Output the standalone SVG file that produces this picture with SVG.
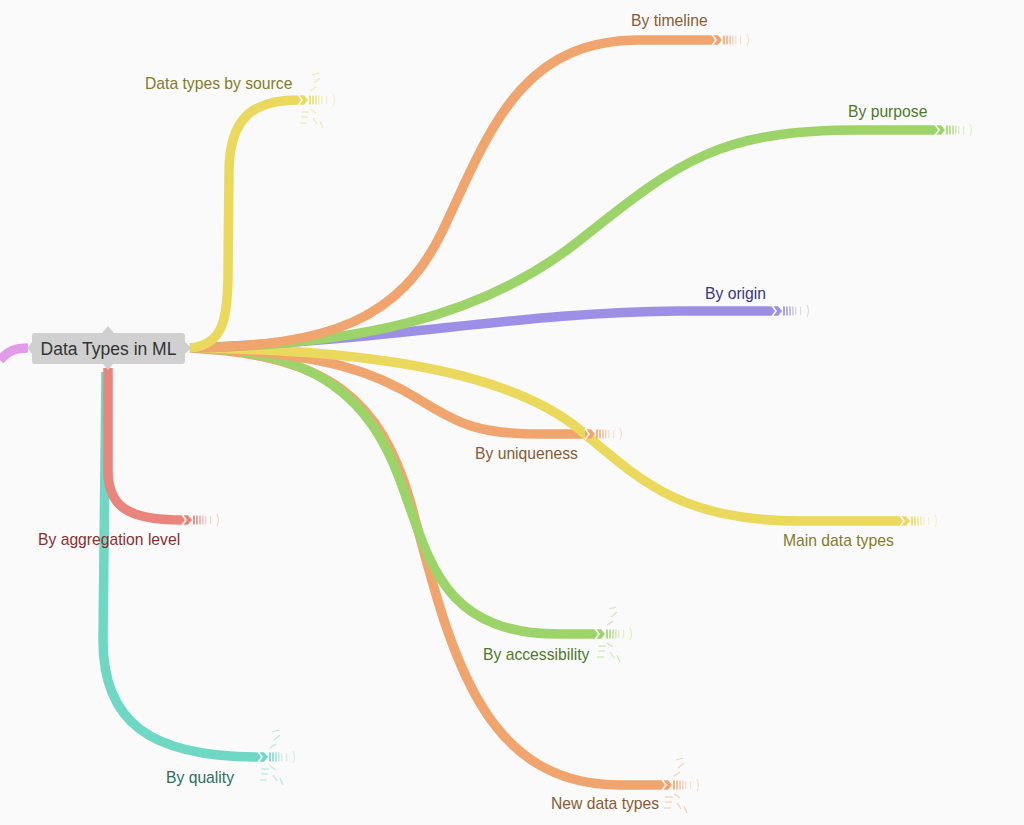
<svg xmlns="http://www.w3.org/2000/svg" xmlns:xlink="http://www.w3.org/1999/xlink" width="1024" height="825" viewBox="0 0 1024 825">
<style>
.br{fill:none;stroke-width:9.5;stroke-linecap:butt;stroke-linejoin:round}
.lbl{font-family:"Liberation Sans",Arial,sans-serif;font-size:15.7px}
.ctr{font-family:"Liberation Sans",Arial,sans-serif;font-size:17.5px;fill:#333}
</style>
<defs>
<g id="tail">
<polygon points="0,-4.75 6,-4.75 10,0 6,4.75 0,4.75" fill="currentColor"/>
<polyline points="0,-5.5 4,0 0,5.5" fill="none" stroke="#fafafa" stroke-width="1.6"/>
<rect x="11" y="-4.5" width="2" height="9" fill="currentColor" opacity="0.85"/>
<rect x="14" y="-4.5" width="2" height="9" fill="currentColor" opacity="0.7"/>
<rect x="17" y="-4.5" width="2" height="9" fill="currentColor" opacity="0.55"/>
<rect x="20" y="-4.5" width="1.6" height="9" fill="currentColor" opacity="0.45"/>
<rect x="23" y="-4" width="1.4" height="8" fill="currentColor" opacity="0.35"/>
<rect x="28" y="-4" width="1.2" height="8" fill="currentColor" opacity="0.3"/>
<path d="M35,-6 Q38,0 35,6" fill="none" stroke="currentColor" stroke-width="1.2" opacity="0.3"/>
</g>
<g id="burst" stroke="currentColor" stroke-width="1.3" fill="none" opacity="0.45">
<line x1="12" y1="-9" x2="18" y2="-13"/>
<line x1="16" y1="-17" x2="22" y2="-22"/>
<line x1="14" y1="-25" x2="21" y2="-27"/>
<line x1="12" y1="9" x2="18" y2="13"/>
<line x1="15" y1="18" x2="19" y2="24"/>
<line x1="22" y1="21" x2="25" y2="28"/>
<line x1="3" y1="12" x2="11" y2="12"/>
<line x1="3" y1="17" x2="10" y2="17"/>
<line x1="2" y1="23" x2="9" y2="23"/>
</g>
</defs>
<rect width="1024" height="825" fill="#fafafa"/>
<g id="connectors">
<path class="br" stroke="#e19bea" d="M0,360 C8,351 15,348 28,348"/>
<path class="br" stroke="#6fd8c5" d="M106,372 L103,640 C103,722 150,757 258,757"/>
<path class="br" stroke="#e8857c" d="M108,368 L108,470 C108,505 125,520 182,520"/>
<path class="br" stroke="#f0a56f" d="M190,348 C330,355 380,400 410,500 C450,650 480,785 620,785 L662,785"/>
<path class="br" stroke="#9dd46a" d="M190,348 C320,350 370,400 400,480 C430,560 440,634 560,634 L595,634"/>
<path class="br" stroke="#f0a56f" d="M190,348 C330,352 380,375 420,400 C460,425 480,434 540,434 L585,434"/>
<path class="br" stroke="#ead95c" d="M190,348 C400,350 520,380 580,430 C640,480 680,521 800,521 L900,521"/>
<path class="br" stroke="#9d8fe6" d="M190,348 C400,340 520,312 680,311 L772,311"/>
<path class="br" stroke="#9dd46a" d="M190,348 C350,345 480,320 580,240 C680,160 720,130 860,130 L935,130"/>
<path class="br" stroke="#f0a56f" d="M190,348 C330,346 400,320 443,230 C490,130 520,40 640,40 L712,40"/>
<path class="br" stroke="#ead95c" d="M190,348 C222,345 228,322 228,272 L229,172 C229,115 256,100 298,100"/>
<g id="tails">
<use xlink:href="#tail" x="298" y="100" style="color:#ead95c"/><use xlink:href="#burst" x="298" y="100" style="color:#ead95c"/>
<use xlink:href="#tail" x="712" y="40" style="color:#f0a56f"/>
<use xlink:href="#tail" x="935" y="130" style="color:#9dd46a"/>
<use xlink:href="#tail" x="772" y="311" style="color:#9d8fe6"/>
<use xlink:href="#tail" x="585" y="434" style="color:#f0a56f"/>
<use xlink:href="#tail" x="900" y="521" style="color:#ead95c"/>
<use xlink:href="#tail" x="595" y="634" style="color:#9dd46a"/><use xlink:href="#burst" x="595" y="634" style="color:#9dd46a"/>
<use xlink:href="#tail" x="662" y="785" style="color:#f0a56f"/><use xlink:href="#burst" x="662" y="785" style="color:#f0a56f"/>
<use xlink:href="#tail" x="182" y="520" style="color:#e8857c"/>
<use xlink:href="#tail" x="258" y="757" style="color:#6fd8c5"/><use xlink:href="#burst" x="258" y="757" style="color:#6fd8c5"/>
</g>
</g>
<g id="node-center">
<rect x="32" y="333" width="153" height="31" rx="3" fill="#d0d0d0"/>
<polygon points="102,333 108,326 114,333" fill="#d0d0d0"/>
<polygon points="185,342 191,348 185,354" fill="#d0d0d0"/>
<polygon points="32,342 27,348 32,354" fill="#d0d0d0"/>
<polygon points="103,364 108,370 113,364" fill="#d0d0d0"/>
<text class="ctr" x="108.5" y="355" text-anchor="middle">Data Types in ML</text>
</g>
<g id="node-source"><text class="lbl" x="145" y="89" fill="#857a2a">Data types by source</text></g>
<g id="node-timeline"><text class="lbl" x="631" y="26" fill="#8b5a33">By timeline</text></g>
<g id="node-purpose"><text class="lbl" x="848" y="117" fill="#4d7a2c">By purpose</text></g>
<g id="node-origin"><text class="lbl" x="705" y="299" fill="#3b357f">By origin</text></g>
<g id="node-uniqueness"><text class="lbl" x="475" y="459" fill="#8b5a33">By uniqueness</text></g>
<g id="node-main"><text class="lbl" x="783" y="546" fill="#857a2a">Main data types</text></g>
<g id="node-accessibility"><text class="lbl" x="483" y="660" fill="#4d7a2c">By accessibility</text></g>
<g id="node-new"><text class="lbl" x="551" y="809" fill="#8b5a33">New data types</text></g>
<g id="node-aggregation"><text class="lbl" x="38" y="545" fill="#8b2e2e">By aggregation level</text></g>
<g id="node-quality"><text class="lbl" x="166" y="783" fill="#2d6e60">By quality</text></g>
</svg>
